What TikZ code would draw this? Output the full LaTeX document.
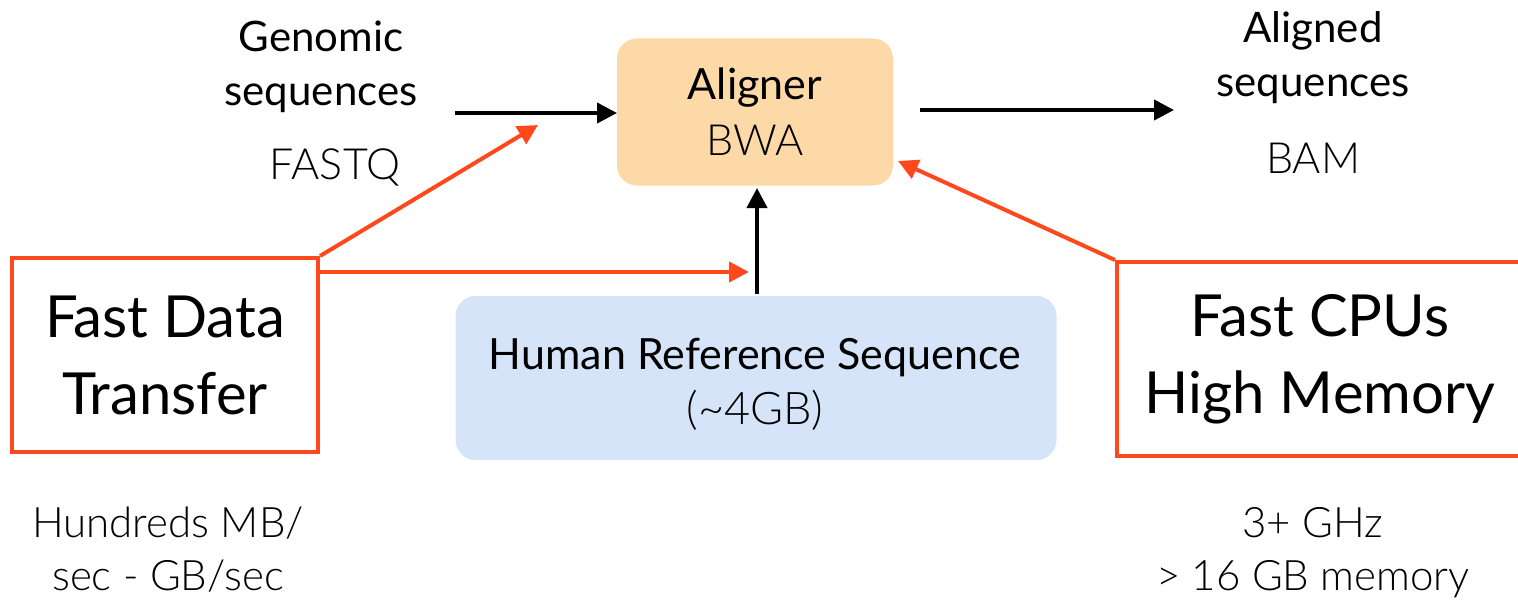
\documentclass[tikz,border=0pt]{standalone}
\usepackage{fontspec}
\setmainfont{Lato}
\newfontfamily\lightfont{Lato Light}
\usetikzlibrary{arrows.meta}
\definecolor{hot}{RGB}{255,72,28}
\definecolor{peach}{RGB}{253,217,168}
\definecolor{sky}{RGB}{214,228,250}
\tikzset{
  blk/.style={line width=4pt,-{Triangle[length=20pt,width=20pt]}},
  hotarrow/.style={line width=4pt,hot,-{Triangle[length=20pt,width=20pt]}},
  fillbox/.style={rounded corners=20pt,inner sep=0pt,align=center},
  framebox/.style={draw=hot,line width=4pt,inner sep=0pt,align=center,font=\fontsize{58}{77}\selectfont},
  lbl/.style={align=center,font=\fontsize{42}{54}\selectfont},
  thin/.style={align=center,font=\lightfont\fontsize{43}{53}\selectfont},
}
\begin{document}
\begin{tikzpicture}[x=1pt,y=-1pt]
\clip (0,0) rectangle (1518,607);
% main boxes
\node[fillbox,fill=peach,minimum width=276pt,minimum height=147pt] (aligner) at (755,112) {};
\node[font=\fontsize{43}{52}\selectfont] (alname) at (755,88) {Aligner};
\node[thin] (bwa) at (755,140) {BWA};
\node[fillbox,fill=sky,minimum width=601pt,minimum height=164pt] (ref) at (756,378) {};
\node[font=\fontsize{43}{52}\selectfont] (refname) at (755,358) {Human Reference Sequence};
\node[thin,font=\lightfont\fontsize{45}{52}\selectfont] (refsize) at (755,410) {(\char"007E 4GB)};
\node[framebox,minimum width=306pt,minimum height=194pt] (transfer) at (165,355) {Fast Data\\Transfer};
\node[framebox,minimum width=406pt,minimum height=194pt] (cpu) at (1320,359) {Fast CPUs\\High Memory};
% inputs and outputs
\node[lbl] (genomic) at (321,67) {Genomic\\sequences};
\node[thin] (fastq) at (335,167) {FASTQ};
\node[lbl] (aligned) at (1313,58) {Aligned\\sequences};
\node[thin] (bam) at (1313,158) {BAM};
\node[thin,font=\lightfont\fontsize{42}{53}\selectfont] (rate) at (168,550) {Hundreds MB/\\sec - GB/sec};
\node[thin,font=\lightfont\fontsize{42}{53}\selectfont] (spec) at (1313,553) {3+ GHz\\> 16 GB memory};
% anchor points for the connectors
\coordinate (gin) at (455,113);
\coordinate (gout) at (617,113);
\coordinate (aout) at (920,110);
\coordinate (aend) at (1174,110);
\coordinate (tip1) at (538,125);
\coordinate (tip2) at (749,272);
\coordinate (tip3) at (898,161);
\coordinate (refup) at (757,294);
\coordinate (alin) at (757,188);
\coordinate (trside) at (318,272);
% connectors
\draw[blk] (gin) -- (gout);
\draw[blk] (aout) -- (aend);
\draw[blk] (refup) -- (alin);
\draw[hotarrow] (transfer.north east) -- (tip1);
\draw[hotarrow] (trside) -- (tip2);
\draw[hotarrow] (cpu.north west) -- (tip3);
\end{tikzpicture}
\end{document}
